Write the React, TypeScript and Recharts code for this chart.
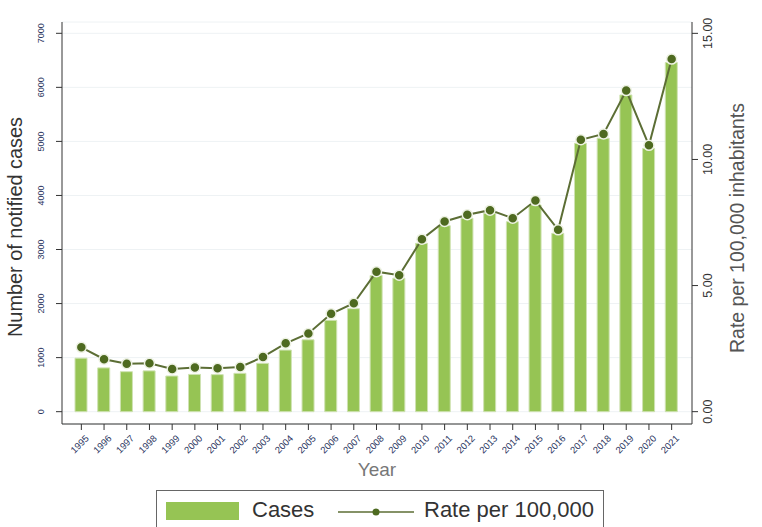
import { ComposedChart, Bar, Line, XAxis, YAxis, CartesianGrid, Legend } from "recharts";

const years = [
  "1995", "1996", "1997", "1998", "1999", "2000", "2001", "2002", "2003",
  "2004", "2005", "2006", "2007", "2008", "2009", "2010", "2011", "2012",
  "2013", "2014", "2015", "2016", "2017", "2018", "2019", "2020", "2021",
];

const cases = [
  990, 810, 740, 755, 660, 690, 685, 710, 895,
  1140, 1330, 1690, 1905, 2520, 2470, 3115, 3440, 3580,
  3670, 3515, 3825, 3300, 4965, 5060, 5860, 4870, 6460,
];

const rates = [
  2.55, 2.08, 1.9, 1.92, 1.69, 1.75, 1.72, 1.77, 2.17,
  2.71, 3.1, 3.88, 4.3, 5.55, 5.41, 6.84, 7.54, 7.81,
  7.99, 7.67, 8.37, 7.21, 10.78, 11.01, 12.73, 10.56, 13.98,
];

const casesTicks = [0, 1000, 2000, 3000, 4000, 5000, 6000, 7000];
const rateTicks = [0, 5, 10, 15];

const data = years.map((year, i) => ({ year, cases: cases[i], rate: rates[i] }));

const FONT = "'Liberation Sans Narrow', 'Liberation Sans', Arial, sans-serif";
const BAR_GREEN = "#96c454";
const LINE_GREEN = "#5c6e35";
const DOT_GREEN = "#4e6a20";

function LeftTick({ y, payload }: any) {
  return (
    <text
      x={44}
      y={y}
      transform={`rotate(-90 44 ${y})`}
      textAnchor="middle"
      fontSize={9}
      fill="#2a3560"
      fontFamily={FONT}
    >
      {payload.value}
    </text>
  );
}

function RightTick({ y, payload }: any) {
  return (
    <text
      x={712}
      y={y}
      transform={`rotate(-90 712 ${y})`}
      textAnchor="middle"
      fontSize={12.5}
      fill="#333"
      fontFamily={FONT}
    >
      {payload.value.toFixed(2)}
    </text>
  );
}

function YearTick({ x, payload }: any) {
  const tx = x + 3;
  const ty = 434;
  return (
    <text
      x={tx}
      y={ty}
      transform={`rotate(-45 ${tx} ${ty})`}
      textAnchor="end"
      dominantBaseline="hanging"
      fontSize={9.5}
      fill="#2a3560"
      fontFamily={FONT}
    >
      {payload.value}
    </text>
  );
}

function RateDot({ cx, cy }: any) {
  if (cx == null || cy == null) return null;
  return <circle cx={cx} cy={cy} r={5} fill={DOT_GREEN} stroke="#eef2e4" strokeWidth={1.5} />;
}

function VerticalTitle({ x, y, text, size, color, length }: any) {
  return (
    <text
      x={x}
      y={y}
      transform={`rotate(-90 ${x} ${y})`}
      textAnchor="middle"
      dominantBaseline="central"
      fontSize={size}
      fill={color}
      fontFamily={FONT}
      textLength={length}
      lengthAdjust="spacingAndGlyphs"
    >
      {text}
    </text>
  );
}

function LegendBox() {
  return (
    <div
      style={{
        position: "absolute",
        left: 156,
        top: 490,
        width: 448,
        height: 40,
        border: "1px solid #666",
        background: "#fff",
        fontFamily: FONT,
        color: "#333",
        fontSize: 22,
        boxSizing: "border-box",
      }}
    >
      <div style={{ position: "absolute", left: 9, top: 11, width: 73, height: 18, background: BAR_GREEN }} />
      <span style={{ position: "absolute", left: 95, top: 6 }}>Cases</span>
      <svg style={{ position: "absolute", left: 180, top: 14 }} width={78} height={14}>
        <line x1={1} y1={7} x2={77} y2={7} stroke={LINE_GREEN} strokeWidth={1.5} />
        <circle cx={39} cy={7} r={3.5} fill={DOT_GREEN} />
      </svg>
      <span style={{ position: "absolute", left: 267, top: 6 }}>Rate per 100,000</span>
    </div>
  );
}

export default function App() {
  return (
    <div style={{ position: "absolute", left: 0, top: 0, width: 762, height: 527, background: "#fff", overflow: "hidden" }}>
      <ComposedChart
        width={762}
        height={527}
        data={data}
        margin={{ top: 22, right: 0, bottom: 0, left: 0 }}
        barCategoryGap={0}
      >
        <CartesianGrid vertical={false} stroke="#eef2f4" yAxisId="left" />
        <XAxis
          dataKey="year"
          height={103}
          interval={0}
          padding={{ left: 8, right: 9 }}
          tick={<YearTick />}
          tickSize={6}
          tickLine={{ stroke: "#333" }}
          axisLine={{ stroke: "#333" }}
          label={{
            value: "Year",
            position: "insideTop",
            offset: 39,
            fill: "#777",
            fontSize: 19,
            fontFamily: FONT,
          }}
        />
        <YAxis
          yAxisId="left"
          width={62}
          domain={[-228, 7209]}
          ticks={casesTicks}
          allowDataOverflow
          tick={<LeftTick />}
          tickSize={6}
          tickLine={{ stroke: "#333" }}
          axisLine={{ stroke: "#333" }}
          label={() => (
            <VerticalTitle x={14} y={227} text="Number of notified cases" size={21} color="#333" length={220} />
          )}
        />
        <YAxis
          yAxisId="right"
          orientation="right"
          width={70}
          domain={[-0.489, 15.45]}
          ticks={rateTicks}
          allowDataOverflow
          tick={<RightTick />}
          tickSize={6}
          tickLine={{ stroke: "#333" }}
          axisLine={{ stroke: "#333" }}
          label={() => (
            <VerticalTitle x={737} y={228} text="Rate per 100,000 inhabitants" size={20} color="#555" length={250} />
          )}
        />
        <Bar
          yAxisId="left"
          dataKey="cases"
          name="Cases"
          fill={BAR_GREEN}
          stroke="#cfe2b2"
          strokeWidth={1}
          barSize={12}
          isAnimationActive={false}
        />
        <Line
          yAxisId="right"
          dataKey="rate"
          name="Rate per 100,000"
          stroke={LINE_GREEN}
          strokeWidth={2}
          dot={<RateDot />}
          activeDot={false}
          isAnimationActive={false}
        />
        <Legend content={() => null} />
      </ComposedChart>
      <LegendBox />
    </div>
  );
}
